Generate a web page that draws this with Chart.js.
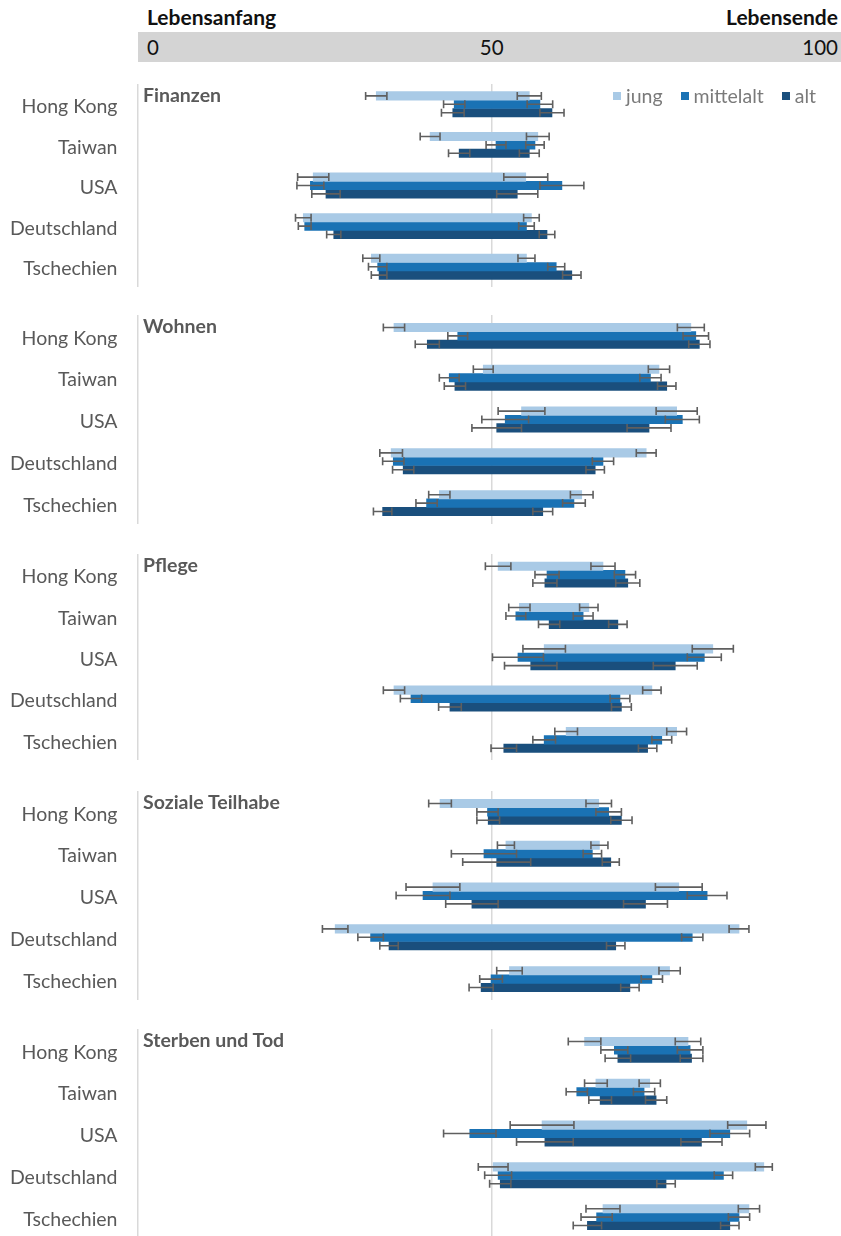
<!DOCTYPE html>
<html lang="de">
<head>
<meta charset="utf-8">
<title>Lebensphasen</title>
<script src="https://cdn.jsdelivr.net/npm/chart.js@4.4.1/dist/chart.umd.min.js"></script>
<style>
  html, body { margin: 0; padding: 0; background: #fff; overflow: hidden; }
  #page { position: relative; width: 841px; height: 1236px; overflow: hidden; font-family: Lato, "Open Sans", sans-serif; }
  .head { position: absolute; top: 4px; font-weight: bold; font-size: 21px; color: #111; }
  #band { position: absolute; left: 138px; top: 32px; width: 703px; height: 30px; background: #d4d4d4; }
  .tick { position: absolute; top: 33px; font-size: 20.5px; line-height: 28px; color: #111; }
  .panel { position: absolute; left: 0; width: 846px; }
  .title { position: absolute; left: 143px; font-weight: bold; font-size: 19.5px; color: #595959; }
  #legend { position: absolute; left: 613px; top: 84px; font-size: 19.5px; color: #7a7a7a; display: flex; gap: 18px; }
  #legend span { display: inline-flex; align-items: center; }
  #legend i { display: inline-block; width: 8px; height: 8px; margin-right: 5px; }
</style>
</head>
<body>
<div id="page">
  <div class="head" style="left:147px">Lebensanfang</div>
  <div class="head" style="right:3px">Lebensende</div>
  <div id="band"></div>
  <div class="tick" style="left:147px">0</div>
  <div class="tick" id="tick50">50</div>
  <div class="tick" style="right:3px">100</div>
</div>

<script>
const countries = ['Hong Kong', 'Taiwan', 'USA', 'Deutschland', 'Tschechien'];
const topics = ['Finanzen', 'Wohnen', 'Pflege', 'Soziale Teilhabe', 'Sterben und Tod'];
const ageGroups = ['jung', 'mittelalt', 'alt'];

// Beginn und Ende je Land (Lebensalter in Prozent), Reihenfolge wie countries
const finanzenJung = [[33.7, 55.3], [41.3, 56.5], [24.8, 54.8], [23.4, 55.6], [33.0, 54.9]];
const finanzenMittel = [[44.7, 56.8], [50.6, 56.1], [24.4, 59.9], [23.6, 54.9], [33.9, 59.1]];
const finanzenAlt = [[44.5, 58.5], [45.4, 55.3], [26.6, 53.6], [27.7, 57.8], [34.1, 61.3]];

const wohnenJung = [[36.2, 78.1], [48.8, 73.6], [54.2, 76.1], [35.8, 71.8], [42.6, 62.7]];
const wohnenMittel = [[45.2, 78.8], [44.0, 72.4], [51.9, 76.9], [36.1, 65.7], [40.8, 61.6]];
const wohnenAlt = [[40.9, 79.3], [44.8, 74.7], [50.7, 72.2], [37.5, 64.6], [34.6, 57.2]];

const pflegeJung = [[50.9, 65.7], [53.9, 63.7], [57.4, 81.2], [36.2, 72.6], [60.5, 76.1]];
const pflegeMittel = [[57.8, 68.8], [53.4, 62.9], [53.7, 80.0], [38.6, 68.1], [57.4, 74.0]];
const pflegeAlt = [[57.5, 69.2], [58.1, 67.8], [55.5, 75.9], [44.1, 68.3], [51.7, 72.0]];

const teilhabeJung = [[42.7, 65.1], [52.0, 65.2], [41.7, 76.4], [27.9, 84.9], [52.5, 75.1]];
const teilhabeMittel = [[49.4, 66.5], [48.9, 64.2], [40.3, 80.4], [32.9, 78.3], [49.9, 72.6]];
const teilhabeAlt = [[49.5, 68.3], [50.7, 66.8], [47.2, 71.7], [35.5, 67.5], [48.5, 69.5]];

const sterbenJung = [[63.1, 77.7], [64.7, 72.3], [57.1, 86.0], [50.2, 88.4], [65.7, 86.3]];
const sterbenMittel = [[67.3, 78.0], [62.0, 71.5], [46.9, 83.6], [50.9, 82.7], [64.8, 84.9]];
const sterbenAlt = [[67.8, 78.2], [65.3, 73.2], [57.5, 79.6], [51.2, 74.6], [63.5, 83.6]];

// Fehlerbalken (+/-) an Beginn und Ende
const finanzenJungErr = [[1.5, 1.7], [1.4, 1.6], [2.2, 3.1], [1.1, 1.1], [1.2, 1.2]];
const finanzenMittelErr = [[1.5, 1.8], [1.4, 1.3], [1.9, 3.1], [0.9, 1.1], [1.3, 1.2]];
const finanzenAltErr = [[1.6, 1.7], [1.5, 1.4], [2.0, 2.9], [1.0, 1.1], [1.1, 1.3]];

const wohnenJungErr = [[1.5, 1.9], [1.4, 1.5], [3.3, 2.9], [1.6, 1.4], [1.5, 1.6]];
const wohnenMittelErr = [[1.4, 1.8], [1.4, 1.5], [3.3, 2.4], [1.5, 1.5], [1.5, 1.6]];
const wohnenAltErr = [[1.7, 1.5], [1.5, 1.3], [3.5, 3.1], [1.5, 1.3], [1.3, 1.4]];

const pflegeJungErr = [[1.8, 1.7], [1.5, 1.3], [3.0, 2.9], [1.5, 1.3], [1.6, 1.4]];
const pflegeMittelErr = [[1.7, 1.5], [1.4, 1.4], [3.6, 2.4], [1.5, 1.4], [1.6, 1.4]];
const pflegeAltErr = [[1.7, 1.7], [1.5, 1.3], [3.7, 3.1], [1.6, 1.4], [1.8, 1.3]];

const teilhabeJungErr = [[1.6, 1.8], [1.2, 1.2], [3.8, 3.3], [1.8, 1.4], [1.8, 1.5]];
const teilhabeMittelErr = [[1.5, 1.8], [4.6, 1.3], [3.8, 2.8], [1.8, 1.5], [1.6, 1.5]];
const teilhabeAltErr = [[1.6, 1.5], [4.8, 1.2], [3.7, 3.1], [1.3, 1.3], [1.7, 1.3]];

const sterbenJungErr = [[2.3, 1.8], [1.6, 1.5], [4.5, 2.7], [2.1, 1.2], [2.4, 1.5]];
const sterbenMittelErr = [[1.9, 1.8], [1.5, 1.5], [3.7, 2.8], [1.9, 1.3], [2.2, 1.5]];
const sterbenAltErr = [[1.8, 1.6], [1.6, 1.5], [4.0, 2.9], [1.5, 1.3], [2.0, 1.3]];

const topicRanges = [
  [finanzenJung, finanzenMittel, finanzenAlt],
  [wohnenJung, wohnenMittel, wohnenAlt],
  [pflegeJung, pflegeMittel, pflegeAlt],
  [teilhabeJung, teilhabeMittel, teilhabeAlt],
  [sterbenJung, sterbenMittel, sterbenAlt]
];
const topicErrors = [
  [finanzenJungErr, finanzenMittelErr, finanzenAltErr],
  [wohnenJungErr, wohnenMittelErr, wohnenAltErr],
  [pflegeJungErr, pflegeMittelErr, pflegeAltErr],
  [teilhabeJungErr, teilhabeMittelErr, teilhabeAltErr],
  [sterbenJungErr, sterbenMittelErr, sterbenAltErr]
];

const colors = ['#a9cae6', '#1a72b4', '#1a4f7d'];
const axisGray = '#d9d9d9';
const textGray = '#595959';

// Lage der fünf Blöcke auf der Seite
const panelTops = [84, 315, 553.5, 791, 1029];
const panelHeights = [203, 209, 206.5, 209, 209];

const page = document.getElementById('page');

// Whisker um einen Endpunkt
function drawWhisker(ctx, scale, value, err, y) {
  const left = scale.getPixelForValue(value - err);
  const right = scale.getPixelForValue(value + err);
  ctx.beginPath();
  ctx.moveTo(left, y);
  ctx.lineTo(right, y);
  ctx.moveTo(left, y - 4);
  ctx.lineTo(left, y + 4);
  ctx.moveTo(right, y - 4);
  ctx.lineTo(right, y + 4);
  ctx.stroke();
}

const errorBars = {
  id: 'errorBars',
  afterDatasetsDraw(chart) {
    const ctx = chart.ctx;
    const x = chart.scales.x;
    ctx.save();
    ctx.strokeStyle = '#5f5f5f';
    ctx.lineWidth = 1.6;
    chart.data.datasets.forEach((ds, i) => {
      chart.getDatasetMeta(i).data.forEach((bar, j) => {
        const [from, to] = ds.data[j];
        const [errFrom, errTo] = ds.errors[j];
        drawWhisker(ctx, x, from, errFrom, bar.y);
        drawWhisker(ctx, x, to, errTo, bar.y);
      });
    });
    ctx.restore();
  }
};

function makePanel(index) {
  const box = document.createElement('div');
  box.className = 'panel';
  box.style.top = panelTops[index] + 'px';
  box.style.height = panelHeights[index] + 'px';
  const canvas = document.createElement('canvas');
  box.appendChild(canvas);
  page.appendChild(box);

  const title = document.createElement('div');
  title.className = 'title';
  title.textContent = topics[index];
  title.style.top = (panelTops[index] - 1) + 'px';
  page.appendChild(title);

  return new Chart(canvas, {
    type: 'bar',
    data: {
      labels: countries,
      datasets: ageGroups.map((group, g) => ({
        label: group,
        data: topicRanges[index][g],
        errors: topicErrors[index][g],
        backgroundColor: colors[g],
        barThickness: 8.4
      }))
    },
    options: {
      indexAxis: 'y',
      responsive: true,
      maintainAspectRatio: false,
      animation: false,
      layout: { padding: 0 },
      plugins: { legend: { display: false }, tooltip: { enabled: false } },
      scales: {
        x: {
          position: 'top',
          min: 0,
          max: 100,
          afterFit: scale => { scale.height = 0; },
          ticks: { display: false, stepSize: 50 },
          border: { display: false },
          grid: {
            drawTicks: false,
            lineWidth: 1.5,
            color: c => (c.tick && c.tick.value === 50 ? axisGray : 'rgba(0,0,0,0)')
          }
        },
        y: {
          // Länderbeschriftung bündig links der Achse, ohne zusätzlichen Rand oben/unten
          afterFit: scale => {
            scale.width = 137.5;
            scale.paddingTop = 0;
            scale.paddingBottom = 0;
          },
          grid: { display: false, drawTicks: false },
          border: { color: axisGray, width: 1.5 },
          ticks: {
            color: textGray,
            padding: 20,
            labelOffset: 2.5,
            font: { family: 'Lato', size: 19.5 }
          }
        }
      }
    },
    plugins: [errorBars]
  });
}

const charts = topics.map((t, i) => makePanel(i));

// Mittelmarke im Kopfband an der Skala ausrichten
const tick50 = document.getElementById('tick50');
const mid = charts[0].scales.x.getPixelForValue(50);
tick50.style.left = (mid - tick50.offsetWidth / 2) + 'px';

// Legende im ersten Block
const legend = document.createElement('div');
legend.id = 'legend';
ageGroups.forEach((group, g) => {
  const item = document.createElement('span');
  item.innerHTML = '<i style="background:' + colors[g] + '"></i>' + group;
  legend.appendChild(item);
});
page.appendChild(legend);
</script>
</body>
</html>
